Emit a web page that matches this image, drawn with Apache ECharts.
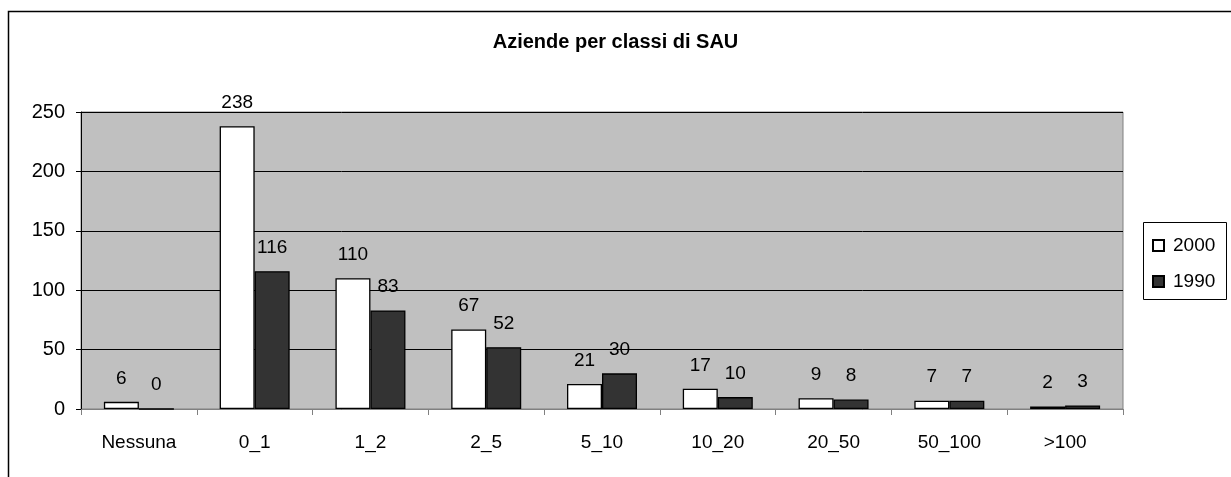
<!DOCTYPE html>
<html>
<head>
<meta charset="utf-8">
<script src="https://cdn.jsdelivr.net/npm/echarts@6/dist/echarts.min.js"></script>
<style>
  html, body { margin: 0; padding: 0; background: #fff; }
  #container { width: 1231px; height: 477px; }
</style>
</head>
<body>
<div id="container"></div>
<script>
// classi di SAU
var classi = ['Nessuna', '0_1', '1_2', '2_5', '5_10', '10_20', '20_50', '50_100', '>100'];
var anno2000 = [6, 238, 110, 67, 21, 17, 9, 7, 2];
var anno1990 = [0, 116, 83, 52, 30, 10, 8, 7, 3];
var yTicks = [0, 50, 100, 150, 200, 250];

var font = 'Arial, "Liberation Sans", sans-serif';
var dom = document.getElementById('container');
var myChart = echarts.init(dom);

var etichetta = {
  show: true,
  position: 'top',
  distance: 14,
  color: '#000',
  fontSize: 19,
  fontFamily: font
};

var option = {
  animation: false,
  title: {
    text: 'Aziende per classi di SAU',
    left: 'center',
    top: 32,
    padding: 0,
    textStyle: { fontSize: 20, fontWeight: 'bold', fontFamily: font, color: '#000' }
  },
  graphic: [
    {
      type: 'rect',
      shape: { x: 8.5, y: 11.5, width: 1240, height: 480 },
      style: { fill: 'none', stroke: '#000', lineWidth: 1.5 },
      z: -1
    },
    {
      type: 'rect',
      shape: { x: 1143.5, y: 222.5, width: 83, height: 77 },
      style: { fill: '#fff', stroke: '#000', lineWidth: 1 }
    }
  ],
  legend: {
    orient: 'vertical',
    left: 1152,
    top: 236,
    padding: 0,
    itemWidth: 11,
    itemHeight: 11,
    itemGap: 17,
    icon: 'rect',
    textStyle: { fontSize: 19, fontFamily: font, color: '#000', padding: [0, 0, 0, 4] },
    data: ['2000', '1990']
  },
  grid: {
    left: 81,
    top: 112,
    width: 1042,
    height: 297,
    show: true,
    backgroundColor: '#c0c0c0',
    borderColor: '#808080',
    borderWidth: 1
  },
  xAxis: {
    type: 'category',
    data: classi,
    axisLine: { lineStyle: { color: '#808080', width: 1 } },
    axisTick: { show: true, length: 6, lineStyle: { color: '#808080' } },
    axisLabel: { color: '#000', fontSize: 19, fontFamily: font, margin: 24 }
  },
  yAxis: {
    type: 'value',
    min: yTicks[0],
    max: yTicks[yTicks.length - 1],
    interval: 50,
    axisLine: { show: true, lineStyle: { color: '#000', width: 1 } },
    axisTick: { show: true, length: 5, lineStyle: { color: '#000' } },
    axisLabel: { color: '#000', fontSize: 20, fontFamily: font, margin: 16 },
    splitLine: { lineStyle: { color: '#000', width: 1 } }
  },
  series: [
    {
      name: '2000',
      type: 'bar',
      data: anno2000,
      barWidth: 35,
      barGap: '0%',
      itemStyle: { color: '#ffffff', borderColor: '#000', borderWidth: 1.3 },
      label: etichetta
    },
    {
      name: '1990',
      type: 'bar',
      data: anno1990,
      barWidth: 35,
      itemStyle: { color: '#333333', borderColor: '#000', borderWidth: 1.3 },
      label: etichetta
    }
  ]
};

if (option && typeof option === 'object') {
  myChart.setOption(option, true);
}
</script>
</body>
</html>
